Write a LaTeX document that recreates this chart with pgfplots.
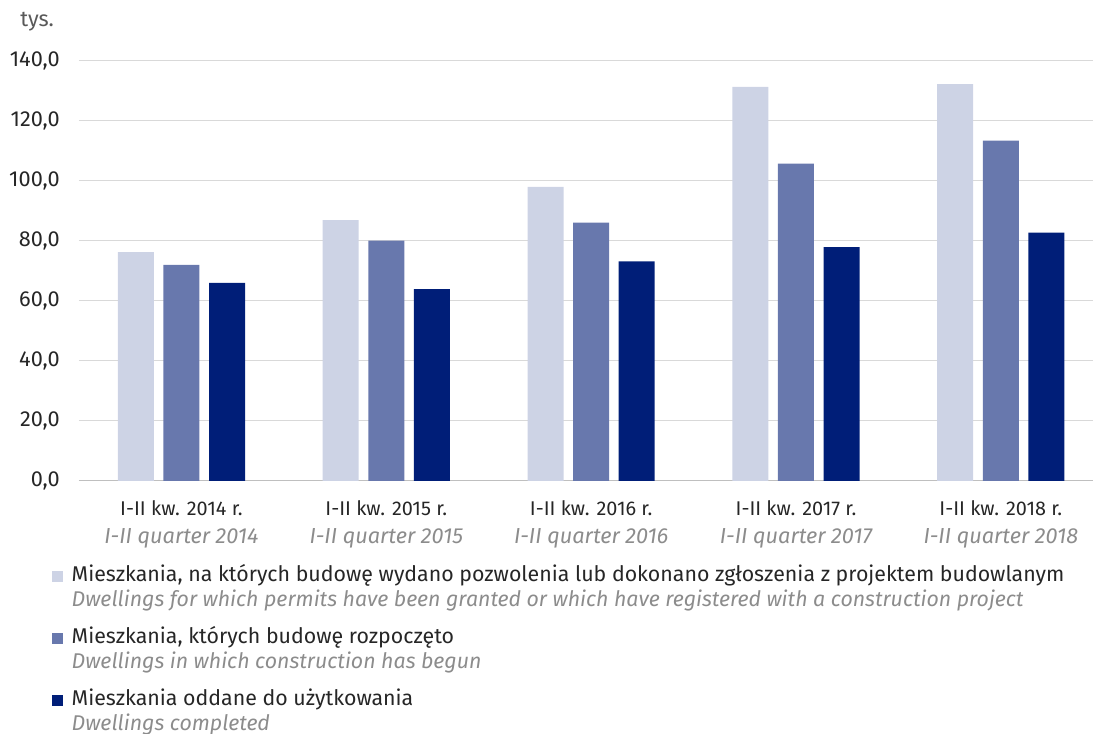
\documentclass[border=0pt]{standalone}
\usepackage{pgfplots}
\pgfplotsset{compat=1.18}
\usepackage{fontspec}
\setmainfont{Fira Sans}
\definecolor{c1}{HTML}{CDD3E5}
\definecolor{c2}{HTML}{6878AD}
\definecolor{c3}{HTML}{001E78}
\definecolor{txt}{HTML}{262626}
\definecolor{itg}{HTML}{8C8C8C}
\definecolor{tysc}{HTML}{595959}
\definecolor{gridc}{HTML}{D9D9D9}
\definecolor{axc}{HTML}{BFBFBF}
\newcommand\LegE[2]{\vtop{\baselineskip=15.5pt\hbox{\fontsize{16pt}{18pt}\selectfont\color{txt}\rule[-5pt]{0pt}{18.5pt}#1}\hbox{\fontsize{16pt}{18pt}\selectfont\itshape\color{itg}#2}}}
\newcommand\XL[2]{{\fontsize{14.9pt}{20.7pt}\selectfont #1}\\\textcolor{itg}{\fontsize{16.3pt}{20.7pt}\selectfont\itshape #2}}
\begin{document}
\begin{tikzpicture}
\useasboundingbox (0,0) rectangle (819.75pt,550.5pt);
\begin{axis}[
  at={(59.25pt,189.75pt)}, anchor=south west,
  scale only axis, width=760.5pt, height=315.2pt,
  xmin=-0.5, xmax=4.45, ymin=0, ymax=140,
  ybar=7.2pt, bar width=27pt,
  xtick={0,1,2,3,4},
  xticklabels={{\XL{I-II kw. 2014 r.}{I-II quarter 2014}},{\XL{I-II kw. 2015 r.}{I-II quarter 2015}},{\XL{I-II kw. 2016 r.}{I-II quarter 2016}},{\XL{I-II kw. 2017 r.}{I-II quarter 2017}},{\XL{I-II kw. 2018 r.}{I-II quarter 2018}}},
  ytick={0,20,40,60,80,100,120,140},
  ymajorgrids, grid style={gridc, line width=0.75pt},
  axis lines*=left,
  y axis line style={draw=none},
  x axis line style={axc, line width=0.75pt},
  major tick length=0pt, tick style={draw=none},
  /pgf/number format/assume math mode=true,
  yticklabel style={/pgf/number format/.cd, fixed, fixed zerofill, precision=1, use comma, 1000 sep={}, /tikz/.cd, font=\fontsize{16.3pt}{18pt}\selectfont, text=txt, inner sep=0pt, anchor=east, xshift=-14.25pt},
  xticklabel style={font=\fontsize{14.9pt}{20.7pt}\selectfont, text=txt, align=center, inner sep=0pt, anchor=north, yshift=-14.8pt},
  legend style={at={(-0.0266,-0.1903)}, anchor=north west, draw=none, fill=none, inner sep=0pt, outer sep=0pt, row sep=27.5pt, column sep=4.5pt, cells={anchor=base west, inner sep=0pt}},
  legend image code/.code={\fill (0pt,0pt) rectangle (8.25pt,8.25pt);},
]
\addplot[fill=c1, draw=none] coordinates {(0,76.2) (1,86.9) (2,98.0) (3,131.3) (4,132.2)};
\addlegendentry{\LegE{Mieszkania, na których budowę wydano pozwolenia lub dokonano zgłoszenia z projektem budowlanym}{Dwellings for which permits have been granted or which have registered with a construction project}}
\addplot[fill=c2, draw=none] coordinates {(0,72.0) (1,80.1) (2,86.1) (3,105.7) (4,113.4)};
\addlegendentry{\LegE{Mieszkania, których budowę rozpoczęto}{Dwellings in which construction has begun}}
\addplot[fill=c3, draw=none] coordinates {(0,66.0) (1,63.9) (2,73.2) (3,77.9) (4,82.7)};
\addlegendentry{\LegE{Mieszkania oddane do użytkowania}{Dwellings completed}}
\end{axis}
\node[anchor=base west, inner sep=0pt, font=\fontsize{16.3pt}{18pt}\selectfont, text=tysc] at (15pt,530.25pt) {tys.};
\end{tikzpicture}
\end{document}
